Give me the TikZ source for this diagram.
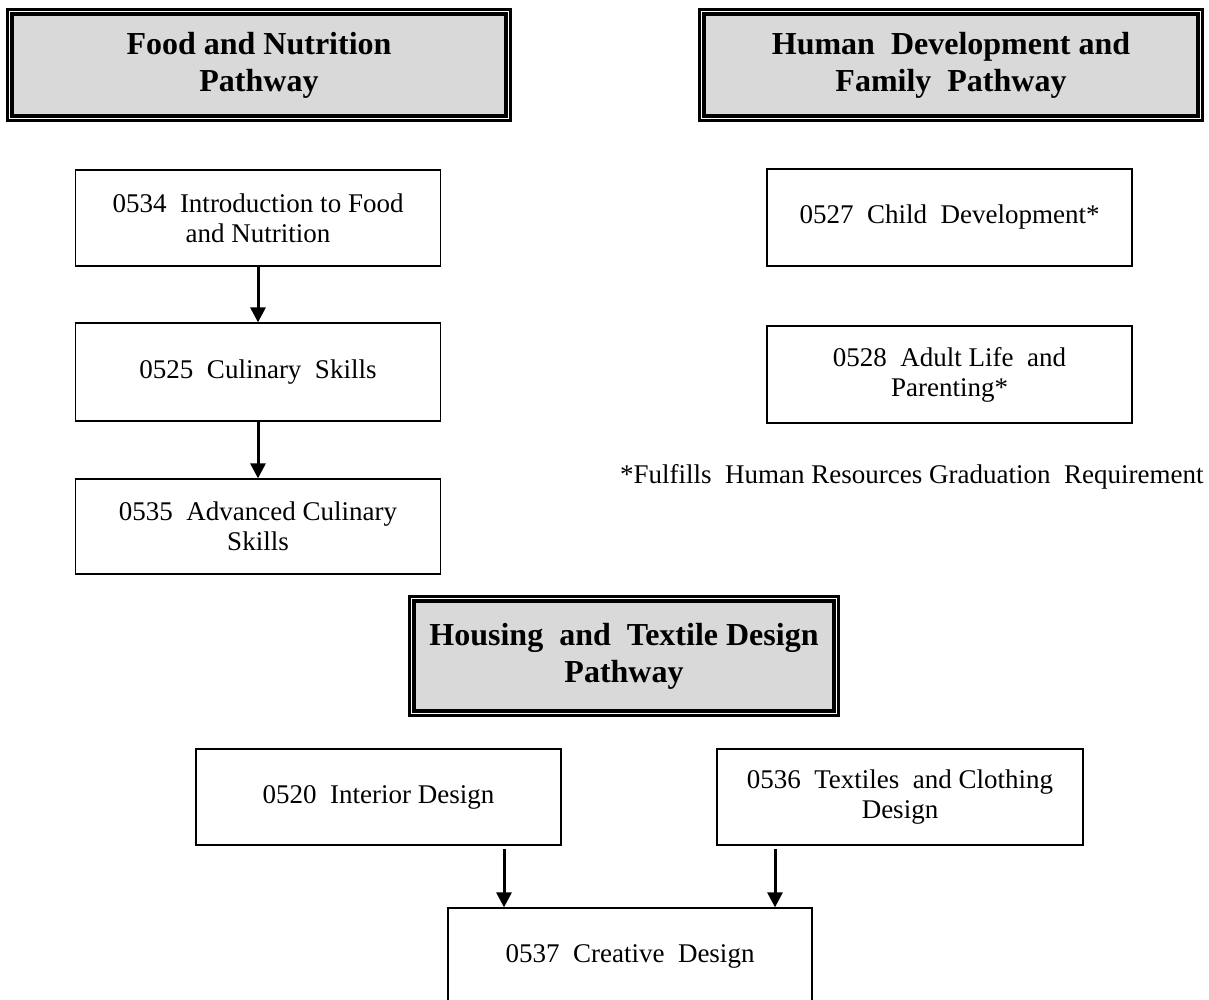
\documentclass[tikz,border=0pt]{standalone}
\usepackage{fontspec}
\setmainfont{Liberation Serif}
\usetikzlibrary{arrows.meta,calc}
\begin{document}
\begin{tikzpicture}[x=1pt,y=-1pt,
  header/.style={draw=black, line width=3.4pt, double=white, double distance=1.4pt,
    fill=black!15, align=center, inner sep=0pt,
    font=\bfseries\fontsize{32}{37}\selectfont},
  course/.style={draw=black, line width=1.3pt, fill=white, align=center, inner sep=0pt,
    minimum width=365pt, minimum height=96pt, font=\fontsize{27}{30}\selectfont},
  arr/.style={line width=3pt, -{Triangle[width=15pt,length=15pt]}}
]
\useasboundingbox (0,0) rectangle (1209,999);
% headers
\node[header, minimum width=498.6pt, minimum height=106.6pt] (h1) at (259,65) {Food and Nutrition\\Pathway};
\node[header, minimum width=498.6pt, minimum height=106.6pt] (h2) at (951,65) {Human\ \ Development and\\Family\ \ Pathway};
\node[header, minimum width=424.6pt, minimum height=114.6pt] (h3) at (624,656) {Housing\ \ and\ \ Textile Design\\Pathway};
% food pathway
\node[course, minimum height=96pt] (b534) at (258,218) {0534\ \ Introduction to Food\\and Nutrition};
\node[course, minimum height=98pt] (b525) at (258,372) {0525\ \ Culinary\ \ Skills};
\node[course, minimum height=95pt] (b535) at (258,526.5) {0535\ \ Advanced Culinary\\Skills};
% human development
\node[course, minimum height=97pt] (b527) at (949.5,217.5) {0527\ \ Child\ \ Development*};
\node[course, minimum height=97pt] (b528) at (949.5,374.5) {0528\ \ Adult Life\ \ and\\Parenting*};
\node[anchor=base west, inner sep=0pt, font=\fontsize{27}{30}\selectfont] (note) at (620,483) {*Fulfills\ \ Human Resources Graduation\ \ Requirement};
% housing
\node[course] (b520) at (378.5,797) {0520\ \ Interior Design};
\node[course, minimum width=366pt] (b536) at (900,797) {0536\ \ Textiles\ \ and Clothing\\Design};
\node[course, minimum width=364pt] (b537) at (630,956) {0537\ \ Creative\ \ Design};
% arrows
\draw[arr] (b534.south) -- (b525.north);
\draw[arr] (b525.south) -- (b535.north);
\draw[arr, shorten <=3pt] ([xshift=125.5pt]b520.south) -- ([xshift=125.5pt]b520.south |- b537.north);
\draw[arr, shorten <=3pt] ([xshift=-125pt]b536.south) -- ([xshift=-125pt]b536.south |- b537.north);
\end{tikzpicture}
\end{document}
